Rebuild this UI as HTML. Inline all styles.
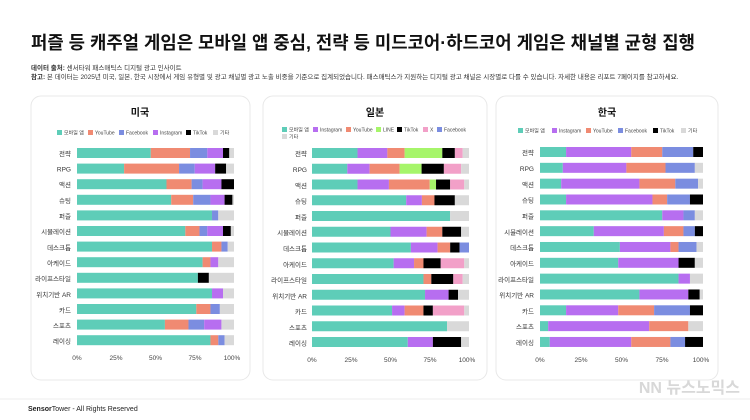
<!DOCTYPE html>
<html><head><meta charset="utf-8"><style>
body{margin:0;background:#fff;}
svg{display:block;font-family:"Liberation Sans","Noto Sans CJK KR",sans-serif;}
</style></head><body>
<svg id="s" width="750" height="420" viewBox="0 0 750 420">
<rect width="750" height="420" fill="#fff"/>
<text x="31" y="49" font-size="18" font-weight="bold" fill="#111" textLength="664" lengthAdjust="spacingAndGlyphs">퍼즐 등 캐주얼 게임은 모바일 앱 중심, 전략 등 미드코어·하드코어 게임은 채널별 균형 집행</text>
<text x="31" y="70" font-size="6.5" fill="#333"><tspan font-weight="bold">데이터 출처:</tspan> 센서타워 패스매틱스 디지털 광고 인사이트</text>
<text x="31" y="79" font-size="6.5" fill="#333"><tspan font-weight="bold">참고:</tspan> 본 데이터는 2025년 미국, 일본, 한국 시장에서 게임 유형별 및 광고 채널별 광고 노출 비중을 기준으로 집계되었습니다. 패스매틱스가 지원하는 디지털 광고 채널은 시장별로 다를 수 있습니다. 자세한 내용은 리포트 7페이지를 참고하세요.</text>
<rect x="31" y="96" width="219" height="284" rx="10" fill="#fff" stroke="#e8e8e8"/>
<rect x="263" y="96" width="224" height="284" rx="10" fill="#fff" stroke="#e8e8e8"/>
<rect x="496" y="96" width="222" height="284" rx="10" fill="#fff" stroke="#e8e8e8"/>
<text x="140" y="116" font-size="10" font-weight="bold" text-anchor="middle" fill="#111">미국</text>
<text x="375" y="116" font-size="10" font-weight="bold" text-anchor="middle" fill="#111">일본</text>
<text x="607" y="116" font-size="10" font-weight="bold" text-anchor="middle" fill="#111">한국</text>
<g id="bars"></g>
<g font-size="5" fill="#444">
<rect x="57" y="130" width="5" height="5" fill="#5ecdb8"/><text x="64" y="134.5">모바일 앱</text>
<rect x="88" y="130" width="5" height="5" fill="#f08a72"/><text x="95" y="134.5">YouTube</text>
<rect x="119" y="130" width="5" height="5" fill="#7b8de0"/><text x="126" y="134.5">Facebook</text>
<rect x="153" y="130" width="5" height="5" fill="#b76ef0"/><text x="160" y="134.5">Instagram</text>
<rect x="186" y="130" width="5" height="5" fill="#000"/><text x="193" y="134.5">TikTok</text>
<rect x="213" y="130" width="5" height="5" fill="#d9d9d9"/><text x="220" y="134.5">기타</text>
<rect x="282" y="127" width="5" height="5" fill="#5ecdb8"/><text x="289" y="131.5">모바일 앱</text>
<rect x="313" y="127" width="5" height="5" fill="#b76ef0"/><text x="320" y="131.5">Instagram</text>
<rect x="346" y="127" width="5" height="5" fill="#f08a72"/><text x="353" y="131.5">YouTube</text>
<rect x="376" y="127" width="5" height="5" fill="#a6f56a"/><text x="383" y="131.5">LINE</text>
<rect x="397" y="127" width="5" height="5" fill="#000"/><text x="404" y="131.5">TikTok</text>
<rect x="423" y="127" width="5" height="5" fill="#f2a0c8"/><text x="430" y="131.5">X</text>
<rect x="437" y="127" width="5" height="5" fill="#7b8de0"/><text x="444" y="131.5">Facebook</text>
<rect x="282" y="134" width="5" height="5" fill="#d9d9d9"/><text x="289" y="138.5">기타</text>
<rect x="518" y="128" width="5" height="5" fill="#5ecdb8"/><text x="525" y="132.5">모바일 앱</text>
<rect x="552" y="128" width="5" height="5" fill="#b76ef0"/><text x="559" y="132.5">Instagram</text>
<rect x="586" y="128" width="5" height="5" fill="#f08a72"/><text x="593" y="132.5">YouTube</text>
<rect x="618" y="128" width="5" height="5" fill="#7b8de0"/><text x="625" y="132.5">Facebook</text>
<rect x="653" y="128" width="5" height="5" fill="#000"/><text x="660" y="132.5">TikTok</text>
<rect x="681" y="128" width="5" height="5" fill="#d9d9d9"/><text x="688" y="132.5">기타</text>
</g>
<g font-size="6.5" fill="#333" text-anchor="end">
<text x="71" y="156">전략</text><text x="71" y="171.5">RPG</text><text x="71" y="187">액션</text><text x="71" y="203">슈팅</text><text x="71" y="218.5">퍼즐</text><text x="71" y="234">시뮬레이션</text><text x="71" y="250">데스크톱</text><text x="71" y="265.5">아케이드</text><text x="71" y="281">라이프스타일</text><text x="71" y="297">위치기반 AR</text><text x="71" y="312.5">카드</text><text x="71" y="328">스포츠</text><text x="71" y="343.5">레이싱</text>
<text x="307" y="156">전략</text><text x="307" y="172">RPG</text><text x="307" y="188">액션</text><text x="307" y="203.5">슈팅</text><text x="307" y="219.5">퍼즐</text><text x="307" y="235">시뮬레이션</text><text x="307" y="251">데스크톱</text><text x="307" y="267">아케이드</text><text x="307" y="282.5">라이프스타일</text><text x="307" y="298.5">위치기반 AR</text><text x="307" y="314">카드</text><text x="307" y="330">스포츠</text><text x="307" y="345.5">레이싱</text>
<text x="534" y="155">전략</text><text x="534" y="171">RPG</text><text x="534" y="187">액션</text><text x="534" y="202.5">슈팅</text><text x="534" y="218.5">퍼즐</text><text x="534" y="234.5">시뮬레이션</text><text x="534" y="250">데스크톱</text><text x="534" y="266">아케이드</text><text x="534" y="282">라이프스타일</text><text x="534" y="297.5">위치기반 AR</text><text x="534" y="313.5">카드</text><text x="534" y="329">스포츠</text><text x="534" y="345">레이싱</text>
</g>
<g font-size="6.5" fill="#444" text-anchor="middle">
<text x="77" y="360">0%</text><text x="116" y="360">25%</text><text x="155.5" y="360">50%</text><text x="195" y="360">75%</text><text x="232" y="360">100%</text>
<text x="312" y="362">0%</text><text x="351" y="362">25%</text><text x="390.5" y="362">50%</text><text x="430" y="362">75%</text><text x="467" y="362">100%</text>
<text x="540" y="362">0%</text><text x="581" y="362">25%</text><text x="621.5" y="362">50%</text><text x="662" y="362">75%</text><text x="701" y="362">100%</text>
</g>
<line x1="0" y1="399" x2="750" y2="399" stroke="#eee"/>
<text x="28" y="411" font-size="7" fill="#222"><tspan font-weight="bold">Sensor</tspan>Tower - All Rights Reserved</text>
<text x="740" y="393" font-size="16" font-weight="bold" fill="#d8d8d8" text-anchor="end">NN 뉴스노믹스</text>
</svg>
<script>
var C={t:"#5ecdb8",y:"#f08a72",f:"#7b8de0",i:"#b76ef0",k:"#000",g:"#d9d9d9",l:"#a6f56a",x:"#f2a0c8"};
var P=[
{x0:77,w:157,y0:153,st:15.6,rows:[
[["t",47],["y",72],["f",83],["i",93],["k",97],["g",100]],
[["t",30],["y",65],["f",75],["i",88],["k",95],["g",100]],
[["t",57],["y",73],["f",80],["i",92],["k",100]],
[["t",60],["y",74],["f",85],["i",94],["k",99],["g",100]],
[["t",86],["f",90],["g",100]],
[["t",69],["y",78],["f",83],["i",93],["k",98],["g",100]],
[["t",86],["y",92],["f",96],["g",100]],
[["t",80],["y",85],["i",90],["g",100]],
[["t",77],["k",84],["g",100]],
[["t",86],["i",93],["g",100]],
[["t",76],["y",85],["f",91],["g",100]],
[["t",56],["y",71],["f",81],["i",92],["g",100]],
[["t",85],["y",90],["f",94],["g",100]]]},
{x0:312,w:157,y0:153,st:15.75,rows:[
[["t",29],["i",48],["y",59],["l",83],["k",91],["x",96],["g",100]],
[["t",22.5],["i",36.7],["y",55.8],["l",69.8],["k",84],["x",95],["g",100]],
[["t",29],["i",49],["y",75],["l",79],["k",88],["x",97],["g",100]],
[["t",60],["i",70],["y",78],["k",91],["g",100]],
[["t",88],["g",100]],
[["t",50],["i",73],["y",83],["k",95],["g",100]],
[["t",63],["i",80],["y",88],["k",94],["f",100]],
[["t",52],["i",65],["y",71],["k",82],["x",97],["g",100]],
[["t",71],["y",76],["k",90],["x",96],["g",100]],
[["t",72],["i",87],["k",93],["g",100]],
[["t",51],["i",59],["y",71],["k",77],["x",97],["g",100]],
[["t",86],["g",100]],
[["t",61],["i",77],["k",95],["g",100]]]},
{x0:540,w:163,y0:152,st:15.83,rows:[
[["t",16],["i",56],["y",75],["f",94],["k",100]],
[["t",14],["i",53],["y",77],["f",95],["g",100]],
[["t",13],["i",61],["y",83],["f",97],["g",100]],
[["t",16],["i",69],["y",78],["f",92],["k",100]],
[["t",75],["i",88],["f",95],["g",100]],
[["t",33],["i",76],["y",88],["f",95],["k",100]],
[["t",49],["i",80],["y",85],["f",96],["g",100]],
[["t",48],["i",85],["k",95],["g",100]],
[["t",85],["i",92],["g",100]],
[["t",61],["i",91],["k",98],["g",100]],
[["t",16],["i",48],["y",70],["f",92],["k",100]],
[["t",5],["i",67],["y",91],["g",100]],
[["t",6],["i",56],["y",80],["f",89],["k",100]]]}];
var h="";
P.forEach(function(p){p.rows.forEach(function(r,j){var prev=0,cy=p.y0+j*p.st;
r.forEach(function(s){h+='<rect x="'+(p.x0+prev*p.w/100)+'" y="'+(cy-5)+'" width="'+((s[1]-prev)*p.w/100)+'" height="10" fill="'+C[s[0]]+'"/>';prev=s[1];});});});
document.getElementById("bars").innerHTML=h;
</script>
</body></html>
